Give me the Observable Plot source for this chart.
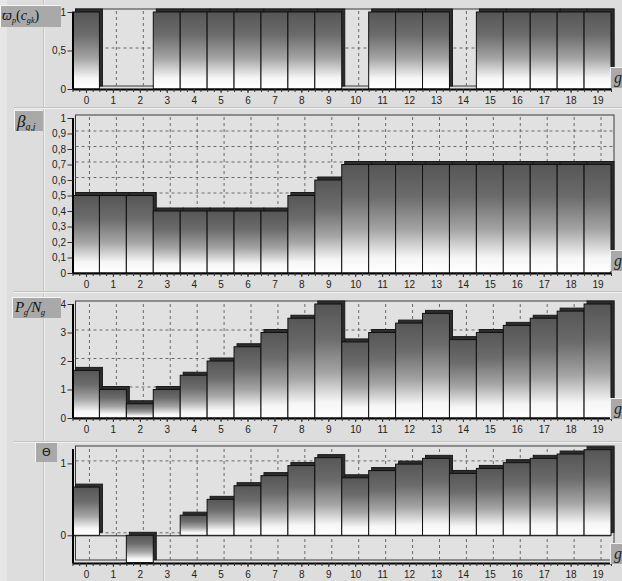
<!DOCTYPE html>
<html><head><meta charset="utf-8">
<script src="https://cdn.jsdelivr.net/npm/d3@7"></script>
<script src="https://cdn.jsdelivr.net/npm/@observablehq/plot@0.6"></script>
<style>
body{margin:0;background:#dddddd;}
#root{position:relative;width:622px;height:581px;overflow:hidden;background:#dddddd;font-family:"Liberation Sans",Arial,sans-serif;}
.panel{position:absolute;left:0;}
.lab{position:absolute;background:#a9a9a9;border-top:1px solid #f6f6f6;border-left:1px solid #f6f6f6;font-family:"Liberation Serif","DejaVu Serif",serif;font-style:italic;color:#111;white-space:nowrap;box-sizing:border-box;overflow:hidden;line-height:1;}
.lab sub{font-size:58%;vertical-align:-3px;}
.gbox{position:absolute;left:610px;width:14px;height:21px;background:#a9a9a9;border-top:1px solid #f0f0f0;border-left:1px solid #f0f0f0;box-sizing:border-box;font-family:"Liberation Serif",serif;font-style:italic;font-size:16px;color:#222;padding-left:3px;line-height:20px;overflow:hidden;}
.hsep{position:absolute;left:14px;width:608px;height:1px;background:#c2c2c2;border-bottom:1px solid #f2f2f2;}
</style>
</head><body>
<svg width="0" height="0" style="position:absolute">
  <defs>
    <linearGradient id="barGrad" x1="0" y1="0" x2="0" y2="1">
      <stop offset="0" stop-color="#565656"/>
      <stop offset="0.3" stop-color="#6c6c6c"/>
      <stop offset="0.6" stop-color="#a4a4a4"/>
      <stop offset="0.86" stop-color="#f6f6f6"/>
      <stop offset="1" stop-color="#ffffff"/>
    </linearGradient>
  </defs>
</svg>
<div id="root">
  <div style="position:absolute;left:0;top:0;width:7px;height:581px;background:#e6e6e6"></div>
  <div style="position:absolute;left:43px;top:0;width:1px;height:581px;background:#c6c6c6;border-right:1px solid #ececec"></div>
</div>
<script>
const categories = [0,1,2,3,4,5,6,7,8,9,10,11,12,13,14,15,16,17,18,19];
const omega = [1,0,0,1,1,1,1,1,1,1,0,1,1,1,0,1,1,1,1,1];
const beta  = [0.5,0.5,0.5,0.4,0.4,0.4,0.4,0.4,0.5,0.6,0.7,0.7,0.7,0.7,0.7,0.7,0.7,0.7,0.7,0.7];
const pn    = [1.67,1,0.5,1,1.5,2,2.5,3,3.5,4,2.67,3,3.33,3.67,2.75,3,3.25,3.5,3.75,4];
const theta = [0.67,0,-0.38,0,0.28,0.5,0.69,0.83,0.97,1.08,0.8,0.9,0.99,1.07,0.86,0.93,1.01,1.07,1.13,1.19];

const ticks1 = [0,0.5,1];
const ticks2 = [0,0.1,0.2,0.3,0.4,0.5,0.6,0.7,0.8,0.9,1];
const ticks3 = [0,1,2,3,4];
const ticks4 = [0,1];

const fmt = d => String(d).replace(".", ",");
const quarters = categories.flatMap(g => [g - 0.5, g - 0.25, g, g + 0.25]).concat([categories[categories.length-1] + 0.5]);

const root = document.getElementById("root");

function panel({values, top, height, mt, mb, domain, yticks, zeroLine}) {
  const data = categories.map((g, i) => ({g, v: values[i]}));
  const [y0, y1] = domain;
  const marks = [
    Plot.rect([0], {x1: () => -0.5, x2: () => 19.5, y1: () => y0, y2: () => y1, fill: "#e1e1e1", stroke: "#3a3a3a", dx: 3, dy: -3}),
    Plot.ruleY(yticks.filter(t => t > y0 && t < y1), {x1: () => -0.5, x2: () => 19.5, stroke: "#6a6a6a", strokeDasharray: "3,3", dx: 3, dy: -3}),
    Plot.ruleX(categories, {y1: () => y0, y2: () => y1, stroke: "#6a6a6a", strokeDasharray: "3,3", dx: 3, dy: -3}),
  ];
  if (zeroLine) marks.push(Plot.ruleY([0], {x1: () => -0.5, x2: () => 19.5, stroke: "#222", strokeWidth: 1}));
  marks.push(
    Plot.rect(data, {x1: d => d.g - 0.5, x2: d => d.g + 0.5, y1: () => 0, y2: "v", fill: "#2d2d2d", stroke: "#1a1a1a", dx: 3, dy: -3}),
    Plot.rect(data, {x1: d => d.g - 0.5, x2: d => d.g + 0.5, y1: () => 0, y2: "v", fill: "url(#barGrad)", stroke: "#111", strokeWidth: 1}),
    Plot.ruleY([y0], {x1: () => -0.5, x2: () => 19.5, stroke: "#000", strokeWidth: 2}),
    Plot.ruleX([-0.5], {y1: () => y0, y2: () => y1, stroke: "#000", strokeWidth: 2}),
    Plot.axisX(quarters, {tickSize: 3, tickFormat: () => "", stroke: "#333", label: null}),
    Plot.axisX(categories, {tickSize: 4, tickPadding: 3, tickFormat: d => String(d), stroke: "#333", fill: "#222", label: null}),
    Plot.axisY(yticks, {tickSize: 5, tickPadding: 2, tickFormat: fmt, stroke: "#333", fill: "#222", label: null})
  );
  const chart = Plot.plot({
    width: 622, height,
    marginLeft: 72.5, marginRight: 11, marginTop: mt, marginBottom: mb,
    x: {domain: [-0.5, 19.5], axis: null, label: null},
    y: {domain, axis: null, label: null},
    style: {background: "transparent", fontSize: "10px", fontFamily: "'Liberation Sans', Arial, sans-serif", overflow: "visible"},
    marks
  });
  chart.classList.add("panel");
  chart.style.top = top + "px";
  chart.style.position = "absolute";
  root.appendChild(chart);
}

panel({values: omega, top: 0, height: 107, mt: 12, mb: 18, domain: [0, 1], yticks: ticks1});
panel({values: beta, top: 108, height: 184, mt: 10, mb: 19, domain: [0, 1], yticks: ticks2});
panel({values: pn, top: 292, height: 150, mt: 12, mb: 24, domain: [0, 4], yticks: ticks3});
panel({values: theta, top: 442, height: 139, mt: 7, mb: 18, domain: [-0.385, 1.2], yticks: ticks4, zeroLine: true});

function addHTML(html) { root.insertAdjacentHTML("beforeend", html); }
addHTML('<div class="hsep" style="top:107px"></div>');
addHTML('<div class="hsep" style="top:291px"></div>');
addHTML('<div class="hsep" style="top:441px"></div>');

addHTML('<div class="lab" style="left:0;top:5px;width:61px;height:22px;font-size:14px;padding:3px 0 0 1px"><span>ϖ</span><sub>p</sub><span style="font-style:normal">(</span>c<sub>gk</sub><span style="font-style:normal">)</span></div>');
addHTML('<div class="lab" style="left:14px;top:110px;width:29px;height:21px;font-size:17px;padding:2px 0 0 2px">β<sub>g,j</sub></div>');
addHTML('<div class="lab" style="left:12px;top:297px;width:49px;height:21px;font-size:15px;padding:2px 0 0 2px;letter-spacing:-0.5px">P<sub>g</sub>/N<sub>g</sub></div>');
addHTML('<div class="lab" style="left:35px;top:442px;width:22px;height:20px;font-size:11px;padding:4px 0 0 6px;font-style:normal;font-family:\'DejaVu Sans\',sans-serif">Θ</div>');

[67, 250, 398, 543].forEach(t => addHTML('<div class="gbox" style="top:' + t + 'px">g</div>'));
</script>
</body></html>
